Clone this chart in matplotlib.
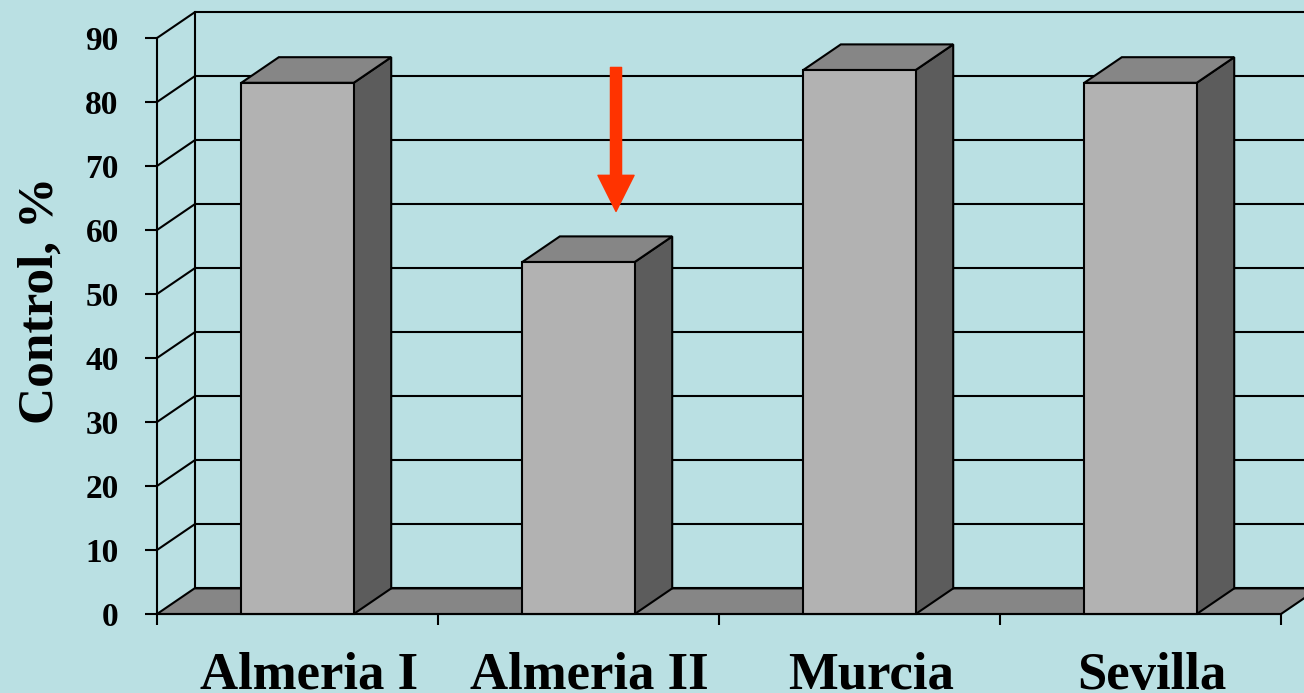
import matplotlib
matplotlib.use('Agg')
import matplotlib.pyplot as plt
from matplotlib.patches import Polygon

# data
regions = ['Almeria I', 'Almeria II', 'Murcia', 'Sevilla']
control = [83, 55, 85, 83]
yticks = [0, 10, 20, 30, 40, 50, 60, 70, 80, 90]

bg = '#BAE0E3'
front_c = '#B2B2B2'
side_c = '#5C5C5C'
top_c = '#868686'
floor_c = '#868686'

# fake 3D depth, in data units
dx = 0.1335
dy = 4.0
bar_w = 0.4
lw = 1.5

plt.rcParams['font.family'] = ['Liberation Serif', 'DejaVu Serif']
plt.rcParams['font.weight'] = 'bold'

fig = plt.figure(figsize=(13.04, 6.93), dpi=100, facecolor=bg)
ax = fig.add_axes([157 / 1304, 79 / 693, 1124 / 1304, 576 / 693])
ax.set_xlim(0, len(regions))
ax.set_ylim(0, 90)
ax.patch.set_visible(False)

n = len(regions)

# back wall: gridlines and side diagonals
for v in yticks:
    ax.plot([dx, n + dx], [v + dy, v + dy], color='black', lw=lw, zorder=1,
            clip_on=False, solid_capstyle='butt')
    if v > 0:
        ax.plot([0, dx], [v, v + dy], color='black', lw=lw, zorder=1,
                clip_on=False)
ax.plot([dx, dx], [dy, 90 + dy], color='black', lw=lw, zorder=1, clip_on=False)

# floor
ax.add_patch(Polygon([(0, 0), (n, 0), (n + dx, dy), (dx, dy)], closed=True,
                     facecolor=floor_c, edgecolor='black', lw=lw, zorder=2,
                     clip_on=False, joinstyle='miter'))

# bars
for i, v in enumerate(control):
    x0 = i + 0.5 - bar_w / 2
    x1 = x0 + bar_w
    kw = dict(closed=True, edgecolor='black', lw=lw, zorder=3,
              clip_on=False, joinstyle='miter')
    ax.add_patch(Polygon([(x1, 0), (x1 + dx, dy), (x1 + dx, v + dy), (x1, v)],
                         facecolor=side_c, **kw))
    ax.add_patch(Polygon([(x0, v), (x1, v), (x1 + dx, v + dy), (x0 + dx, v + dy)],
                         facecolor=top_c, **kw))
    ax.add_patch(Polygon([(x0, 0), (x1, 0), (x1, v), (x0, v)],
                         facecolor=front_c, **kw))

# red arrow over Almeria II
ax.annotate('', xy=(1.5 + dx, 62.9), xytext=(1.5 + dx, 85.4),
            arrowprops=dict(arrowstyle='simple,head_length=2.6,head_width=2.6,tail_width=0.8',
                            mutation_scale=10, color='#FF3300', shrinkA=0, shrinkB=0),
            zorder=5, annotation_clip=False)

# axes
for s in ['top', 'right']:
    ax.spines[s].set_visible(False)
for s in ['left', 'bottom']:
    ax.spines[s].set_linewidth(lw)
    ax.spines[s].set_zorder(4)

ax.set_yticks(yticks)
ax.set_yticklabels([str(t) for t in yticks], fontsize=24, fontweight='bold')
ax.tick_params(axis='y', direction='out', length=8.6, width=lw, pad=19)

ax.set_xticks(range(n + 1))
ax.set_xticklabels([])
ax.tick_params(axis='x', which='major', direction='out', length=8, width=lw)
ax.set_xticks([i + 0.5 + dx * 0.3 for i in range(n)], minor=True)
ax.set_xticklabels(regions, minor=True, fontsize=38, fontweight='bold')
ax.tick_params(axis='x', which='minor', length=0, pad=27)

ax.set_ylabel('Control, %', fontsize=37, fontweight='bold')
ax.yaxis.set_label_coords(-0.083, 0.545)

fig.savefig('out.png', dpi=100, facecolor=bg)
